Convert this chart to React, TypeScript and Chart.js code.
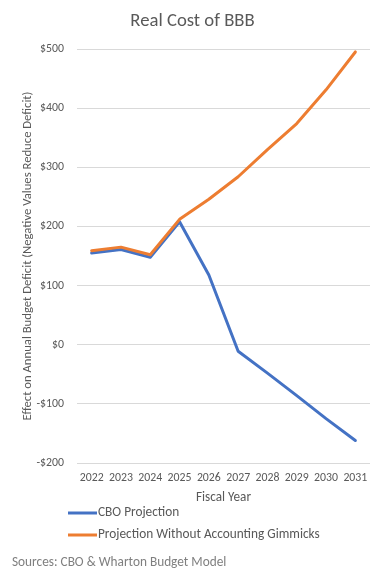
import React, { useEffect, useRef } from "react";
import { Chart, registerables } from "chart.js";

Chart.register(...registerables);

const years = ["2022", "2023", "2024", "2025", "2026", "2027", "2028", "2029", "2030", "2031"];
const cboProjection = [155, 161, 148, 208, 118, -11, -48, -86, -125, -162];
const withoutGimmicks = [159, 165, 152, 212, 246, 284, 330, 374, 431, 495];
const seriesNames = ["CBO Projection", "Projection Without Accounting Gimmicks"];
const seriesColors = ["#4472C4", "#ED7D31"];
const titleText = "Real Cost of BBB";
const yTitle = "Effect on Annual Budget Deficit (Negative Values Reduce Deficit)";
const xTitle = "Fiscal Year";
const sourceText = "Sources: CBO & Wharton Budget Model";

const FONT = "Carlito, Calibri, Lato, sans-serif";
const TEXT = "#595959";

const textPlugin = {
  id: "titleLegendFooter",
  afterDraw(chart: any) {
    const ctx = chart.ctx;
    ctx.save();
    ctx.textBaseline = "middle";
    ctx.font = `18.7px ${FONT}`;
    ctx.fillStyle = TEXT;
    ctx.textAlign = "center";
    ctx.fillText(titleText, chart.width / 2, 21);

    ctx.font = `13.3px ${FONT}`;
    ctx.textAlign = "left";
    const rows = [513, 535];
    seriesNames.forEach((name, i) => {
      const y = rows[i];
      ctx.strokeStyle = seriesColors[i];
      ctx.lineWidth = 3;
      ctx.beginPath();
      ctx.moveTo(68, y);
      ctx.lineTo(97, y);
      ctx.stroke();
      ctx.fillStyle = TEXT;
      ctx.fillText(name, 98, y);
    });
    ctx.font = `13.3px ${FONT}`;
    ctx.fillStyle = "#7F7F7F";
    ctx.fillText(sourceText, 12, 563);
    ctx.restore();
  },
};

export default function App() {
  const ref = useRef<HTMLCanvasElement | null>(null);
  useEffect(() => {
    if (!ref.current) return;
    const chart = new Chart(ref.current, {
      type: "line",
      data: {
        labels: years,
        datasets: [
          {
            label: seriesNames[0],
            data: cboProjection,
            borderColor: seriesColors[0],
            backgroundColor: seriesColors[0],
            borderWidth: 3,
            pointRadius: 0,
            tension: 0,
            borderJoinStyle: "round",
            borderCapStyle: "round",
            order: 1,
          },
          {
            label: seriesNames[1],
            data: withoutGimmicks,
            borderColor: seriesColors[1],
            backgroundColor: seriesColors[1],
            borderWidth: 3,
            pointRadius: 0,
            tension: 0,
            borderJoinStyle: "round",
            borderCapStyle: "round",
            order: 0,
          },
        ],
      },
      options: {
        animation: false,
        responsive: false,
        maintainAspectRatio: false,
        layout: { padding: { left: 0, right: 15, top: 49, bottom: 71 } },
        plugins: {
          legend: { display: false },
          tooltip: { enabled: false },
          title: { display: false },
        },
        scales: {
          x: {
            offset: true,
            grid: { display: false, drawTicks: false },
            border: { display: false },
            ticks: {
              color: TEXT,
              font: { family: FONT, size: 11.8 },
              padding: 8,
              maxRotation: 0,
              autoSkip: false,
            },
            title: {
              display: true,
              text: xTitle,
              color: TEXT,
              font: { family: FONT, size: 13.2 },
              padding: { top: 0, bottom: 0 },
            },
            afterFit: (s: any) => {
              s.height = 43;
            },
          },
          y: {
            min: -200,
            max: 500,
            grid: { color: "#D9D9D9", lineWidth: 1, drawTicks: false },
            border: { display: false },
            ticks: {
              stepSize: 100,
              color: TEXT,
              font: { family: FONT, size: 11.8 },
              padding: 13,
              callback: (v: any) => (Number(v) < 0 ? `-$${Math.abs(Number(v))}` : `$${v}`),
            },
            title: {
              display: true,
              text: yTitle,
              color: TEXT,
              font: { family: FONT, size: 12.7 },
              padding: { top: 20, bottom: 0 },
            },
            afterFit: (s: any) => {
              s.width = 77;
            },
          },
        },
      },
      plugins: [textPlugin],
    });
    return () => chart.destroy();
  }, []);
  return (
    <div style={{ position: "fixed", left: 0, top: 0, width: 385, height: 577, background: "#fff" }}>
      <canvas ref={ref} width={385} height={577} style={{ width: 385, height: 577 }} />
    </div>
  );
}
